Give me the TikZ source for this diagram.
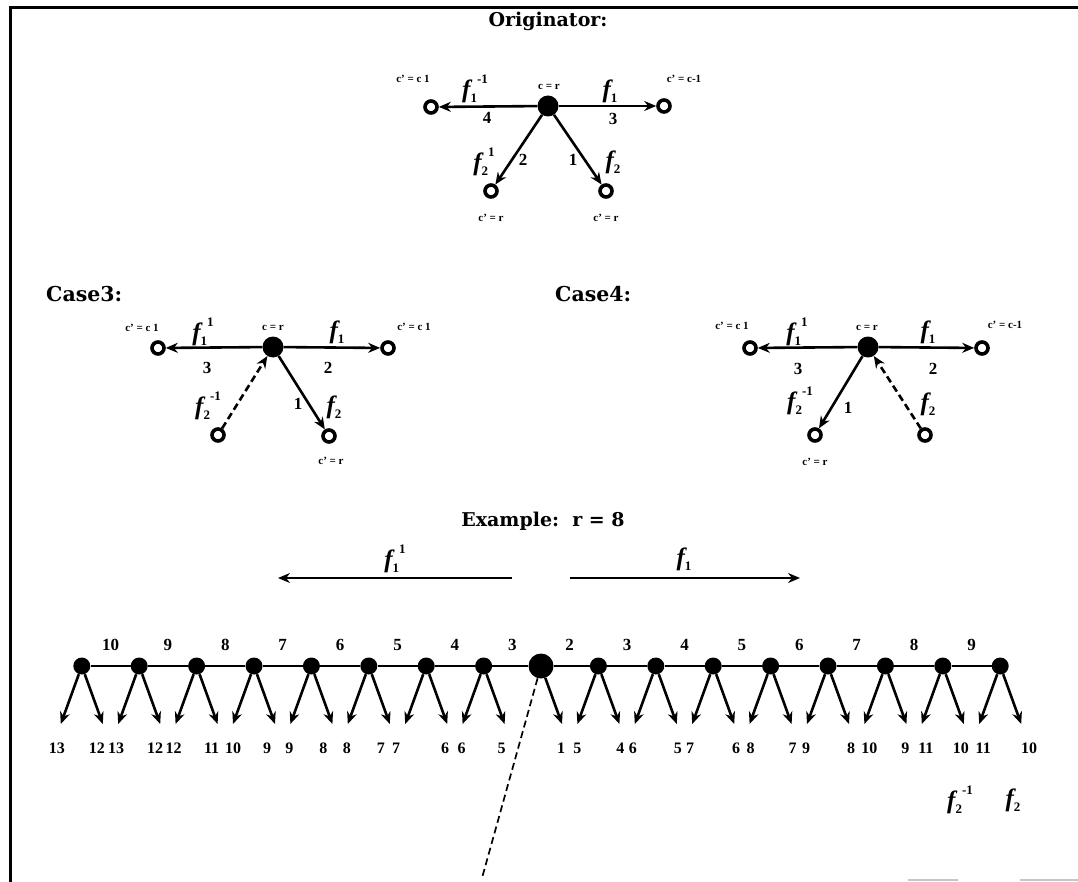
\documentclass[tikz,border=0pt]{standalone}
\usepackage{fontspec}
\setmainfont{Liberation Serif}
\newfontfamily\heavyfont{DejaVu Serif}
\usetikzlibrary{arrows.meta}
\newcommand{\fS}[1]{{\fontsize{25}{25}\selectfont\bfseries\itshape f}\raisebox{-5pt}{\fontsize{13}{13}\selectfont\bfseries #1}}
\newcommand{\fSS}[2]{\fS{#1}\raisebox{14pt}{\fontsize{13}{13}\selectfont\bfseries #2}}
\tikzset{
  frameline/.style={line width=3pt},
  ttl/.style={font=\heavyfont\bfseries\fontsize{19}{19}\selectfont, inner sep=0},
  small/.style={font=\bfseries\fontsize{11}{11}\selectfont, inner sep=0},
  num/.style={font=\bfseries\fontsize{17}{17}\selectfont, inner sep=0},
  bnum/.style={font=\bfseries\fontsize{16}{16}\selectfont, inner sep=0},
  flab/.style={inner sep=0},
  hub/.style={circle, fill=black, minimum size=21pt, inner sep=0},
  leaf/.style={circle, draw=black, line width=3.6pt, fill=white, minimum size=12pt, inner sep=0},
  cnode/.style={circle, fill=black, minimum size=17pt, inner sep=0},
  bighub/.style={circle, fill=black, minimum size=25pt, inner sep=0},
  arr/.style={line width=2.6pt, -{Stealth[length=12pt,width=10pt]}},
  darr/.style={arr, dash pattern=on 7pt off 4pt},
  link/.style={line width=2.6pt},
  dline/.style={line width=1.7pt, dash pattern=on 7pt off 4pt},
}
\begin{document}
\begin{tikzpicture}[x=1pt,y=-1pt]
\useasboundingbox (0,0) rectangle (1078,882);
\draw[frameline] (10,882) -- (10,8) -- (1078,8);
\draw[gray!45, line width=1.5pt] (908,880) -- (958,880) (1020,880) -- (1078,880);

% ---------------- Originator ----------------
\node[ttl] (t0) at (548,21) {Originator:};
\node[hub] (o) at (548,106) {};
\node[leaf] (ol) at (431,107) {};
\node[leaf] (or) at (664,106) {};
\node[leaf] (odl) at (491,191) {};
\node[leaf] (odr) at (606,191) {};
\draw[arr] (o) -- (ol);
\draw[arr] (o) -- (or);
\draw[arr] (o) -- (odl);
\draw[arr] (o) -- (odr);
\node[small] (o1) at (413,79) {c' = c 1};
\node[small] (o2) at (549,87) {c = r};
\node[small] (o3) at (684,79) {c' = c-1};
\node[flab] (o4) at (475,89) {\fSS{1}{-1}};
\node[flab] (o5) at (610,91) {\fS{1}};
\node[num] (o6) at (487,118) {4};
\node[num] (o7) at (613,119) {3};
\node[flab] (o8) at (484,162) {\fSS{2}{1}};
\node[num] (o9) at (523,160) {2};
\node[num] (o10) at (573,160) {1};
\node[flab] (o11) at (613,162) {\fS{2}};
\node[small] (o12) at (491,218) {c' = r};
\node[small] (o13) at (606,218) {c' = r};

% ---------------- Case3 ----------------
\node[ttl, font=\heavyfont\bfseries\fontsize{20.5}{20}\selectfont, anchor=west] (t3) at (46,294) {Case3:};
\node[hub] (a) at (273,347) {};
\node[leaf] (al) at (158,348) {};
\node[leaf] (ar) at (388,348) {};
\node[leaf] (adl) at (218,435) {};
\node[leaf] (adr) at (329,436) {};
\draw[arr] (a) -- (al);
\draw[arr] (a) -- (ar);
\draw[darr] (adl) -- (a);
\draw[arr] (a) -- (adr);
\node[small] (a1) at (142,328) {c' = c 1};
\node[flab] (a2) at (203,332) {\fSS{1}{1}};
\node[small] (a3) at (273,328) {c = r};
\node[flab] (a4) at (337,332) {\fS{1}};
\node[small] (a5) at (414,327) {c' = c 1};
\node[num] (a6) at (207,368) {3};
\node[num] (a7) at (328,368) {2};
\node[flab] (a8) at (208,406) {\fSS{2}{-1}};
\node[num] (a9) at (298,404) {1};
\node[flab] (a10) at (334,407) {\fS{2}};
\node[small] (a11) at (331,461) {c' = r};

% ---------------- Case4 ----------------
\node[ttl, font=\heavyfont\bfseries\fontsize{20.5}{20}\selectfont, anchor=west] (t4) at (555,294) {Case4:};
\node[hub] (b) at (868,347) {};
\node[leaf] (bl) at (750,348) {};
\node[leaf] (br) at (982,348) {};
\node[leaf] (bdl) at (815,435) {};
\node[leaf] (bdr) at (925,435) {};
\draw[arr] (b) -- (bl);
\draw[arr] (b) -- (br);
\draw[arr] (b) -- (bdl);
\draw[darr] (bdr) -- (b);
\node[small] (b1) at (732,326) {c' = c 1};
\node[flab] (b2) at (797,332) {\fSS{1}{1}};
\node[small] (b3) at (867,328) {c = r};
\node[flab] (b4) at (928,332) {\fS{1}};
\node[small] (b5) at (1005,325) {c' = c-1};
\node[num] (b6) at (798,369) {3};
\node[num] (b7) at (933,369) {2};
\node[flab] (b8) at (800,401) {\fSS{2}{-1}};
\node[num] (b9) at (848,408) {1};
\node[flab] (b10) at (928,404) {\fS{2}};
\node[small] (b11) at (815,462) {c' = r};

% ---------------- Example ----------------
\node[ttl] (t5) at (543,521) {Example:\ \ r = 8};
\coordinate (la) at (512,578);
\coordinate (lb) at (278,578);
\coordinate (ra) at (570,578);
\coordinate (rb) at (800,578);
\draw[arr, line width=1.9pt] (la) -- (lb);
\draw[arr, line width=1.9pt] (ra) -- (rb);
\node[flab] (e1) at (395,559) {\fSS{1}{1}};
\node[flab] (e2) at (684,559) {\fS{1}};

\node[bighub] (C) at (541,666) {};
\foreach \i/\p/\q/\t/\u/\v in {1/6/5/3/-22/18, 2/7/6/4/-30/19, 3/8/7/5/-22/12, 4/9/8/6/-22/12, 5/10/9/7/-21/13, 6/12/11/8/-23/15, 7/13/12/9/-23/16, 8/13/12/10/-25/15} {
  \node[cnode] (L\i) at ({541-57.4*\i},666) {};
  \coordinate (La\i) at ({541-57.4*\i-21},724);
  \coordinate (Lb\i) at ({541-57.4*\i+21},724);
  \draw[arr] (L\i) -- (La\i);
  \draw[arr] (L\i) -- (Lb\i);
  \node[bnum] (Lp\i) at ({541-57.4*\i+\u},748) {\p};
  \node[bnum] (Lq\i) at ({541-57.4*\i+\v},748) {\q};
  \node[num] (Lt\i) at ({541-57.4*(\i-0.5)},645) {\t};
}
\foreach \i/\p/\q/\t/\u/\v in {1/5/4/2/-21/22, 2/6/5/3/-23/22, 3/7/6/4/-23/23, 4/8/7/5/-20/22, 5/9/8/6/-22/23, 6/10/9/7/-16/20, 7/11/10/8/-17/18, 8/11/10/9/-17/29} {
  \node[cnode] (R\i) at ({541+57.4*\i},666) {};
  \coordinate (Ra\i) at ({541+57.4*\i-21},724);
  \coordinate (Rb\i) at ({541+57.4*\i+21},724);
  \draw[arr] (R\i) -- (Ra\i);
  \draw[arr] (R\i) -- (Rb\i);
  \node[bnum] (Rp\i) at ({541+57.4*\i+\u},748) {\p};
  \node[bnum] (Rq\i) at ({541+57.4*\i+\v},748) {\q};
  \node[num] (Rt\i) at ({541+57.4*(\i-0.5)},645) {\t};
}
\draw[link] (L8) -- (L7) -- (L6) -- (L5) -- (L4) -- (L3) -- (L2) -- (L1) -- (C)
  -- (R1) -- (R2) -- (R3) -- (R4) -- (R5) -- (R6) -- (R7) -- (R8);
\coordinate (Cd) at (562,724);
\draw[arr] (C) -- (Cd);
\node[bnum] (Cl) at (561,748) {1};
\coordinate (dend) at (482,878);
\draw[dline] (C) -- (dend);

\node[flab] (g1) at (960,800) {\fSS{2}{-1}};
\node[flab] (g2) at (1013,800) {\fS{2}};
\end{tikzpicture}
\end{document}
